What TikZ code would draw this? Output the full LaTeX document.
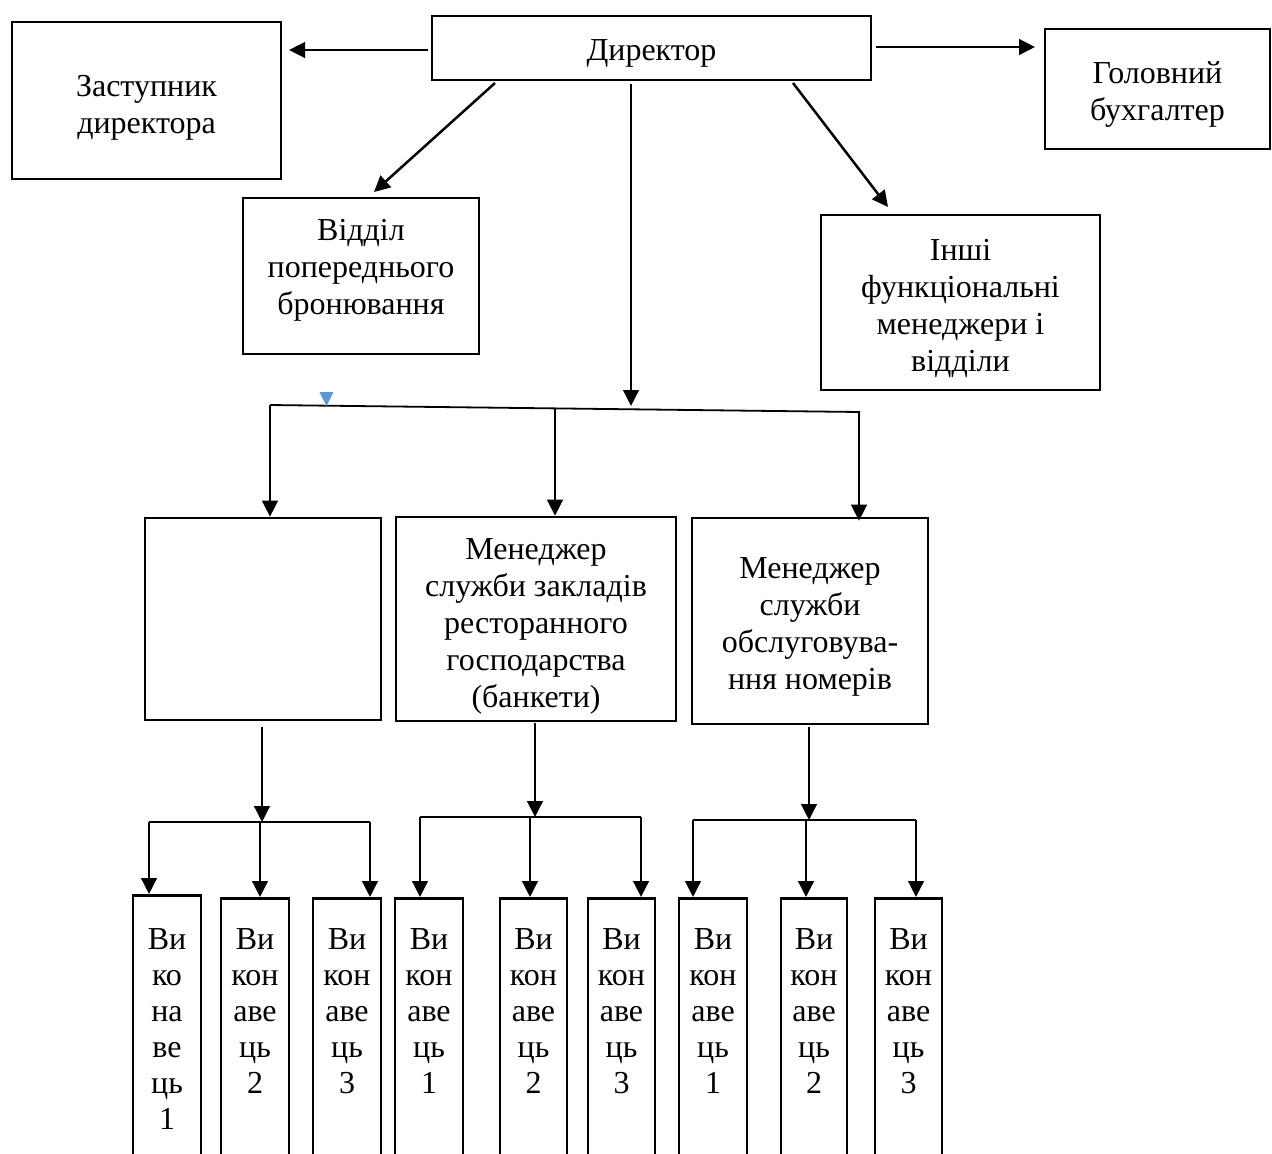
\documentclass[tikz,border=0pt]{standalone}
\usepackage{fontspec}
\setmainfont{Liberation Serif}
\usetikzlibrary{arrows.meta}
\definecolor{markblue}{HTML}{5B9BD5}
\tikzset{
  box/.style={draw, line width=1.3pt, rectangle, inner sep=0pt},
  txt/.style={inner sep=0pt, align=center, font=\fontsize{16pt}{18.5pt}\selectfont},
  ebox/.style={draw, line width=1.3pt, rectangle, inner sep=0pt, anchor=north,
    minimum width=34pt, minimum height=160pt},
  etext/.style={inner sep=0pt, anchor=north, align=center,
    font=\fontsize{16pt}{18pt}\selectfont},
  arr/.style={line width=1.25pt, -{Triangle[width=7.8pt,length=8pt]}},
  bar/.style={line width=0.9pt}
}
\begin{document}
\begin{tikzpicture}[x=0.5pt,y=-0.5pt]
\useasboundingbox (0,0) rectangle (1272,1153);
\clip (0,0) rectangle (1272,1153);
% top level
\node[box, minimum width=219.5pt, minimum height=32pt] (dir) at (651.5,48) {};
\node[txt] (dirt) at ([yshift=-2.5pt]dir.center) {Директор};
\node[box, minimum width=134.5pt, minimum height=78.5pt] (zam) at (146.5,100.5) {};
\node[txt] (zamt) at ([yshift=-3.5pt]zam.center) {Заступник\\директора};
\node[box, minimum width=112.5pt, minimum height=60pt] (gol) at (1157.5,89) {};
\node[txt] (golt) at ([yshift=-2.5pt]gol.center) {Головний\\бухгалтер};
\node[box, minimum width=118pt, minimum height=78pt] (vid) at (361,276) {};
\node[txt] (vidt) at ([yshift=3pt]vid.center) {Відділ\\попереднього\\бронювання};
\node[box, minimum width=139.5pt, minimum height=87.5pt] (inshi) at (960.5,302.5) {};
\node[txt] (inshit) at ([yshift=-3pt]inshi.center) {Інші\\функціональні\\менеджери і\\відділи};
% middle level
\node[box, minimum width=118pt, minimum height=101pt] (m1) at (263,619) {};
\node[box, minimum width=140pt, minimum height=102pt] (m2) at (536,619) {};
\node[txt] (m2t) at ([yshift=-3.5pt]m2.center) {Менеджер\\служби закладів\\ресторанного\\господарства\\(банкети)};
\node[box, minimum width=118pt, minimum height=103pt] (m3) at (810,621) {};
\node[txt] (m3t) at ([yshift=-3pt]m3.center) {Менеджер\\служби\\обслуговува-\\ння номерів};
% bottom boxes
\node[ebox, minimum width=34pt] (e1) at (167,894) {};
\node[ebox] (e2) at (255,897) {};
\node[ebox] (e3) at (347,897) {};
\node[ebox] (e4) at (429,897) {};
\node[ebox, minimum width=33.5pt] (e5) at (533.5,897) {};
\node[ebox, minimum width=33.5pt] (e6) at (621.5,897) {};
\node[ebox] (e7) at (713,897) {};
\node[ebox, minimum width=33pt] (e8) at (814,897) {};
\node[ebox, minimum width=33.5pt] (e9) at (908.5,897) {};
\node[etext] (t1) at ([yshift=-17pt]e1.north) {Ви\\ко\\на\\ве\\ць\\1};
\node[etext] (t2) at ([yshift=-15.5pt]e2.north) {Ви\\кон\\аве\\ць\\2};
\node[etext] (t3) at ([yshift=-15.5pt]e3.north) {Ви\\кон\\аве\\ць\\3};
\node[etext] (t4) at ([yshift=-15.5pt]e4.north) {Ви\\кон\\аве\\ць\\1};
\node[etext] (t5) at ([yshift=-15.5pt]e5.north) {Ви\\кон\\аве\\ць\\2};
\node[etext] (t6) at ([yshift=-15.5pt]e6.north) {Ви\\кон\\аве\\ць\\3};
\node[etext] (t7) at ([yshift=-15.5pt]e7.north) {Ви\\кон\\аве\\ць\\1};
\node[etext] (t8) at ([yshift=-15.5pt]e8.north) {Ви\\кон\\аве\\ць\\2};
\node[etext] (t9) at ([yshift=-15.5pt]e9.north) {Ви\\кон\\аве\\ць\\3};
% coordinates
\coordinate (dl) at (428,50);
\coordinate (zl) at (289,50);
\coordinate (dr) at (876,47);
\coordinate (gr) at (1035,47);
\coordinate (d1) at (495,83);
\coordinate (v1) at (374,192);
\coordinate (d2) at (793,83);
\coordinate (i1) at (888,207);
\coordinate (d3) at (631,84);
\coordinate (bm) at (631,406);
\coordinate (bl) at (270,405);
\coordinate (bc) at (555,408);
\coordinate (br) at (860,412);
\coordinate (brr) at (859,412);
\coordinate (m1s) at (262,727);
\coordinate (g1) at (262,822);
\coordinate (g1l) at (149,822);
\coordinate (g1c) at (260,822);
\coordinate (g1r) at (370,822);
\coordinate (m2s) at (535,723);
\coordinate (g2) at (535,817);
\coordinate (g2l) at (420,817);
\coordinate (g2c) at (530,817);
\coordinate (g2r) at (641,817);
\coordinate (m3s) at (809,727);
\coordinate (g3) at (809,820);
\coordinate (g3l) at (693,820);
\coordinate (g3c) at (806,820);
\coordinate (g3r) at (916,820);
% top connectors
\draw[arr] (dl) -- (zl);
\draw[arr] (dr) -- (gr);
\draw[arr] (d1) -- (v1);
\draw[arr] (d2) -- (i1);
\draw[arr] (d3) -- (bm);
% bus
\draw[bar] (bl) -- (br);
\fill[markblue] (319.5,392) -- (333.5,392) -- (326.5,406) -- cycle;
\draw[arr] (bl) -- (bl |- m1.north);
\draw[arr] (bc) -- (bc |- m2.north);
\draw[arr] (brr) -- ([yshift=-2pt]brr |- m3.north);
% group 1
\draw[arr] (m1s) -- (g1);
\draw[bar] (g1l) -- (g1r);
\draw[arr] (g1l) -- (g1l |- e1.north);
\draw[arr] (g1c) -- (g1c |- e2.north);
\draw[arr] (g1r) -- (g1r |- e3.north);
% group 2
\draw[arr] (m2s) -- (g2);
\draw[bar] (g2l) -- (g2r);
\draw[arr] (g2l) -- (g2l |- e4.north);
\draw[arr] (g2c) -- (g2c |- e5.north);
\draw[arr] (g2r) -- (g2r |- e6.north);
% group 3
\draw[arr] (m3s) -- (g3);
\draw[bar] (g3l) -- (g3r);
\draw[arr] (g3l) -- (g3l |- e7.north);
\draw[arr] (g3c) -- (g3c |- e8.north);
\draw[arr] (g3r) -- (g3r |- e9.north);
\end{tikzpicture}
\end{document}
